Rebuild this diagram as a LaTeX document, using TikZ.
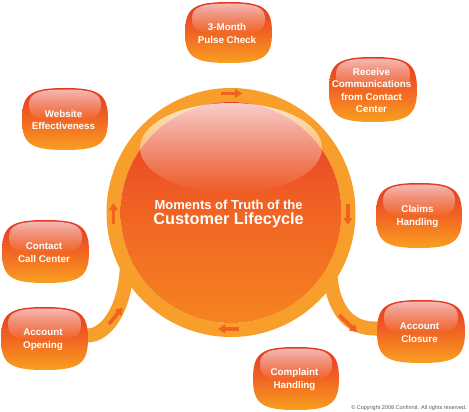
\documentclass[tikz,border=0pt]{standalone}
\usepackage{fontspec}
\setmainfont{Liberation Sans}
\usetikzlibrary{arrows.meta,fadings,calc}
\pgfdeclarelayer{bg}
\pgfsetlayers{bg,main}
\definecolor{ringc}{RGB}{247,158,43}
\definecolor{arrc}{RGB}{240,98,34}
\definecolor{btop}{RGB}{228,55,36}
\definecolor{bmid}{RGB}{242,100,34}
\definecolor{bbot}{RGB}{248,160,32}
\definecolor{ctop}{RGB}{230,58,38}
\definecolor{cmid}{RGB}{241,100,35}
\definecolor{cbot}{RGB}{245,132,32}
\definecolor{copyc}{RGB}{90,90,90}
\tikzfading[name=glossfade, top color=transparent!35, bottom color=transparent!100]
\tikzfading[name=bigfade, top color=transparent!25, middle color=transparent!70, bottom color=transparent!100]
\tikzset{
  boxshade/.style={top color=btop, bottom color=bbot, middle color=bmid},
  gloss/.style={fill=white, path fading=glossfade},
  biggloss/.style={fill=white, path fading=bigfade},
  boxtext/.style={text=white, font=\fontsize{9.8}{12.6}\selectfont\bfseries, align=center, inner sep=0pt},
  band/.style={draw=ringc, line width=14pt},
  flow/.style={draw=arrc, line width=3.6pt, -{Triangle[length=7pt,width=8.5pt]}},
  titletext/.style={text=white, anchor=base, inner sep=0pt},
}
% name, cx, cy, half width, half height, text
\newcommand\gbox[6]{%
  \shade[boxshade] (#2,#3-#5) .. controls (#2+0.8*#4,#3-#5) and (#2+#4,#3-0.8*#5) .. (#2+#4,#3)
    .. controls (#2+#4,#3+0.8*#5) and (#2+0.8*#4,#3+#5) .. (#2,#3+#5)
    .. controls (#2-0.8*#4,#3+#5) and (#2-#4,#3+0.8*#5) .. (#2-#4,#3)
    .. controls (#2-#4,#3-0.8*#5) and (#2-0.8*#4,#3-#5) .. cycle;
  \fill[gloss] (#2,#3-#5+1.5) .. controls (#2+0.75*#4-6,#3-#5+1.5) and (#2+#4-7,#3-#5+5) .. (#2+#4-7,#3-#5/2+1)
    .. controls (#2+#4-7,#3+0.5) and (#2+0.75*#4-6,#3+1) .. (#2,#3+1)
    .. controls (#2-0.75*#4+6,#3+1) and (#2-#4+7,#3+0.5) .. (#2-#4+7,#3-#5/2+1)
    .. controls (#2-#4+7,#3-#5+5) and (#2-0.75*#4+6,#3-#5+1.5) .. cycle;
  \node[boxtext, minimum width=2*#4, minimum height=2*#5] (#1) at (#2-1.5,#3+1) {#6};
}
\begin{document}
\begin{tikzpicture}[x=1pt,y=-1pt]
\begin{pgfonlayer}{bg}
  \fill[white] (0,0) rectangle (469,412);
\end{pgfonlayer}
\useasboundingbox (0,0) rectangle (469,412);

% outer boxes
\gbox{pulse}{228.5}{32.5}{43.5}{30.5}{3-Month\\Pulse Check}
\gbox{recv}{373}{89.5}{44}{32.5}{Receive\\Communications\\from Contact\\Center}
\gbox{web}{65}{119}{43}{31}{Website\\Effectiveness}
\gbox{contact}{45.5}{251.5}{43.5}{31.5}{Contact\\Call Center}
\gbox{claims}{419}{215.5}{43}{32.5}{Claims\\Handling}
\gbox{open}{44.5}{338.5}{43.5}{31.5}{Account\\Opening}
\gbox{close}{421}{331.5}{44}{31.5}{Account\\Closure}
\gbox{complaint}{296}{378.5}{43}{31.5}{Complaint\\Handling}

% central ring and sphere
\node[circle, minimum size=235pt, inner sep=0pt, draw=ringc, line width=14pt] (hub) at (231,212.5) {};
\shade[top color=ctop, bottom color=cbot, middle color=cmid] (hub.center) circle[radius=110.5pt];
\fill[biggloss] (231,148) ellipse[x radius=91pt, y radius=45pt];

\node[titletext, font=\fontsize{13}{15}\selectfont\bfseries] (t1) at (228.6,209) {Moments of Truth of the};
\node[titletext, font=\fontsize{16.3}{18}\selectfont\bfseries] (t2) at (228.6,224.3) {Customer Lifecycle};

% bands to the account boxes
\begin{pgfonlayer}{bg}
  \draw[band] ($(hub.center)+(-104pt,-48pt)$) .. controls (127,305) and (108,336) .. ([yshift=4pt]open.east) -- ([yshift=4pt]open.center);
  \draw[band] ($(hub.center)+(99pt,-55pt)$) .. controls (331,308) and (348,329) .. ([yshift=4pt]close.west) -- ([yshift=4pt]close.center);
\end{pgfonlayer}

% arrows on ring and bands
\draw[flow] (221,93.5) -- (242,93.5);
\draw[flow] (347.8,204) -- (347.8,225);
\draw[flow] (239,329) -- (218,329);
\draw[flow] (113.5,224) -- (113.5,203);
\draw[flow] (109,324) -- (122.5,307.5);
\draw[flow] (339,315) -- (357,332);

\node[anchor=base east, text=copyc, font=\fontsize{5.5}{6}\selectfont, inner sep=0pt] (copy) at (467,409) {© Copyright 2008 Confirmit. All rights reserved.};
\end{tikzpicture}
\end{document}
